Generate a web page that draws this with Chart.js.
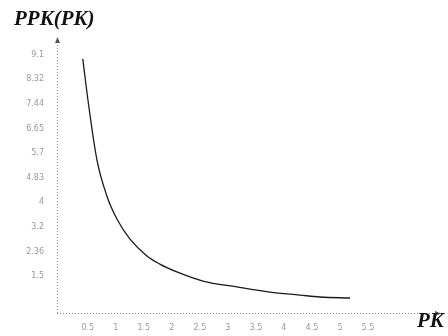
<!DOCTYPE html>
<html>
<head>
<meta charset="utf-8">
<script src="https://cdn.jsdelivr.net/npm/chart.js@4/dist/chart.umd.min.js"></script>
<style>
    html, body { margin: 0; padding: 0; background: #fff; }
    #wrap { width: 448px; height: 336px; }
</style>
</head>
<body>
<div id="wrap"><canvas id="ppkChart" width="448" height="336"></canvas></div>
<script>
// curve
const pkValues = [0.82, 1.0, 1.32, 1.68, 2.04, 2.5, 3.11, 3.57, 4.18, 5.11, 6.32, 7.5, 8.57, 9.29, 10.36];
const ppkValues = [10.33, 8.7, 6.26, 4.76, 3.82, 3.01, 2.32, 1.99, 1.67, 1.3, 1.06, 0.85, 0.73, 0.65, 0.61];

// tick positions and their printed labels
const xTickValues = [1, 2, 3, 4, 5, 6, 7, 8, 9, 10, 11];
const xTickLabels = ['0.5', '1', '1.5', '2', '2.5', '3', '3.5', '4', '4.5', '5', '5.5'];
const yTickValues = [1.5, 2.5, 3.5, 4.5, 5.5, 6.5, 7.5, 8.5, 9.5, 10.5];
const yTickLabels = ['1.5', '2.36', '3.2', '4', '4.83', '5.7', '6.65', '7.44', '8.32', '9.1'];

const yTitle = 'PPK(PK)';
const xTitle = 'PK';

const axisDecor = {
    id: 'axisDecor',
    afterDraw(chart) {
        const { ctx, chartArea } = chart;
        ctx.save();
        ctx.strokeStyle = '#888';
        ctx.lineWidth = 1;
        ctx.setLineDash([1, 2]);
        ctx.beginPath();
        ctx.moveTo(chartArea.left + 0.5, chartArea.bottom);
        ctx.lineTo(chartArea.left + 0.5, chartArea.top);
        ctx.moveTo(chartArea.left, chartArea.bottom + 0.5);
        ctx.lineTo(chartArea.right, chartArea.bottom + 0.5);
        ctx.stroke();
        ctx.setLineDash([]);
        // arrow heads
        ctx.fillStyle = '#555';
        ctx.beginPath();
        ctx.moveTo(chartArea.left + 0.5, chartArea.top - 3);
        ctx.lineTo(chartArea.left - 2, chartArea.top + 3);
        ctx.lineTo(chartArea.left + 3, chartArea.top + 3);
        ctx.fill();
        ctx.beginPath();
        ctx.moveTo(chartArea.right + 3, chartArea.bottom + 0.5);
        ctx.lineTo(chartArea.right - 3, chartArea.bottom - 2);
        ctx.lineTo(chartArea.right - 3, chartArea.bottom + 3);
        ctx.fill();
        // titles
        ctx.fillStyle = '#111';
        ctx.font = 'italic bold 21px "Liberation Serif", "DejaVu Serif", serif';
        ctx.textBaseline = 'alphabetic';
        ctx.fillText(yTitle, 14, 25);
        ctx.fillText(xTitle, 417, 327);
        ctx.restore();
    }
};

const ctx = document.getElementById('ppkChart').getContext('2d');
new Chart(ctx, {
    type: 'line',
    data: {
        datasets: [{
            data: pkValues.map((x, i) => ({ x, y: ppkValues[i] })),
            borderColor: '#1a1a1a',
            backgroundColor: 'transparent',
            borderWidth: 1.3,
            pointRadius: 0,
            tension: 0.4,
            cubicInterpolationMode: 'monotone'
        }]
    },
    options: {
        responsive: false,
        animation: false,
        layout: { padding: { top: 40, right: 10, left: 0, bottom: 0 } },
        plugins: {
            legend: { display: false },
            tooltip: { enabled: false }
        },
        scales: {
            x: {
                type: 'linear',
                min: -0.1,
                max: 13.5,
                border: { display: false },
                grid: { display: false },
                afterBuildTicks: axis => { axis.ticks = xTickValues.map(v => ({ value: v })); },
                afterFit: axis => { axis.height = 23; },
                ticks: {
                    color: '#999',
                    font: { size: 8, family: 'DejaVu Sans' },
                    padding: 2,
                    maxRotation: 0,
                    callback: (v) => xTickLabels[xTickValues.indexOf(v)] ?? ''
                }
            },
            y: {
                type: 'linear',
                min: 0,
                max: 11.1,
                border: { display: false },
                grid: { display: false },
                afterBuildTicks: axis => { axis.ticks = yTickValues.map(v => ({ value: v })); },
                afterFit: axis => { axis.width = 57; },
                ticks: {
                    color: '#999',
                    font: { size: 8, family: 'DejaVu Sans' },
                    padding: 5,
                    callback: (v) => yTickLabels[yTickValues.indexOf(v)] ?? ''
                }
            }
        }
    },
    plugins: [axisDecor]
});
</script>
</body>
</html>
